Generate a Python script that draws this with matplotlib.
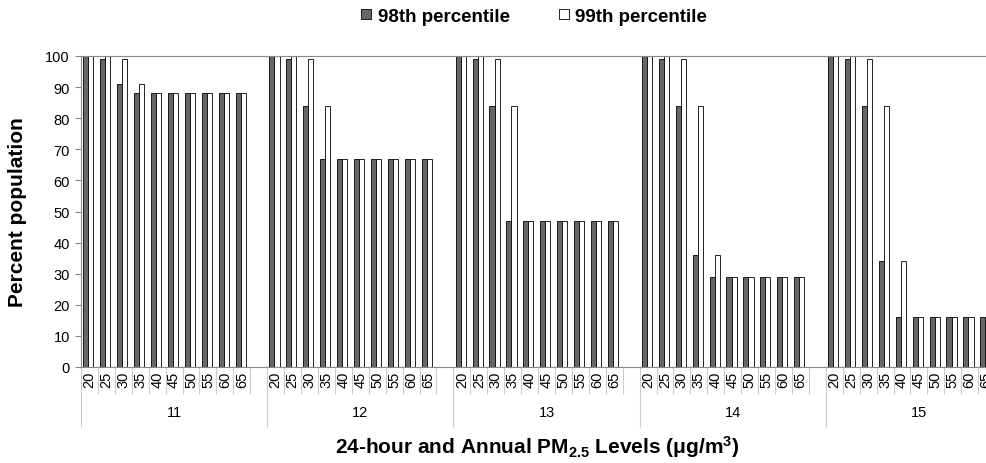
import numpy as np
import matplotlib
matplotlib.use("Agg")
import matplotlib.pyplot as plt
from matplotlib.lines import Line2D
import matplotlib.transforms as mtransforms

plt.rcParams['font.family'] = ['Liberation Sans', 'DejaVu Sans']
plt.rcParams['mathtext.fontset'] = 'custom'
plt.rcParams['mathtext.rm'] = 'Liberation Sans:bold'
plt.rcParams['mathtext.bf'] = 'Liberation Sans:bold'
plt.rcParams['mathtext.default'] = 'bf'

# data
groups = ['11', '12', '13', '14', '15']
levels = ['20', '25', '30', '35', '40', '45', '50', '55', '60', '65']
p98 = [
    [100, 99, 91, 88, 88, 88, 88, 88, 88, 88],
    [100, 99, 84, 67, 67, 67, 67, 67, 67, 67],
    [100, 99, 84, 47, 47, 47, 47, 47, 47, 47],
    [100, 99, 84, 36, 29, 29, 29, 29, 29, 29],
    [100, 99, 84, 34, 16, 16, 16, 16, 16, 16],
]
p99 = [
    [100, 100, 99, 91, 88, 88, 88, 88, 88, 88],
    [100, 100, 99, 84, 67, 67, 67, 67, 67, 67],
    [100, 100, 99, 84, 47, 47, 47, 47, 47, 47],
    [100, 100, 99, 84, 36, 29, 29, 29, 29, 29],
    [100, 100, 99, 84, 34, 16, 16, 16, 16, 16],
]

slots = len(levels) + 1  # one blank slot after each group
W, H = 986, 464
fig = plt.figure(figsize=(W / 100, H / 100), dpi=100)
# plot area runs past the right edge, like the cropped original
ax = fig.add_axes([81 / W, (H - 368) / H, (1012 - 81) / W, (368 - 57) / H])

dark = '#666666'
bw = 0.3
for g in range(len(groups)):
    x0 = g * slots + np.arange(len(levels))
    ax.bar(x0 + 0.28, p98[g], width=bw, color=dark, edgecolor='black', linewidth=0.6)
    ax.bar(x0 + 0.58, p99[g], width=bw, color='white', edgecolor='black', linewidth=0.6)

ax.set_xlim(0, slots * len(groups))
ax.set_ylim(0, 100)
ax.set_yticks(range(0, 101, 10))
ax.tick_params(axis='y', labelsize=10.5, length=4, color='#888888', pad=4)

for s in ['left', 'top', 'bottom']:
    ax.spines[s].set_color('#888888')
    ax.spines[s].set_linewidth(0.8)
ax.spines['right'].set_visible(False)

# separators as tick marks: long ones between groups, short ones between slots
ax.set_xticks([g * slots for g in range(len(groups) + 1)])
ax.set_xticks(np.arange(slots * len(groups) + 1), minor=True)
ax.tick_params(axis='x', which='major', length=60 * 0.72, color='#cccccc', width=0.8, labelbottom=False)
ax.tick_params(axis='x', which='minor', length=27 * 0.72, color='#cccccc', width=0.8)

trans = mtransforms.blended_transform_factory(ax.transData, ax.transAxes)
for g, name in enumerate(groups):
    for i, lv in enumerate(levels):
        ax.text(g * slots + i + 0.5, -4 / 311, lv, transform=trans, rotation=90,
                ha='center', va='top', fontsize=10.5, clip_on=False)
    ax.text(g * slots + slots / 2, -45 / 311, name, transform=trans,
            ha='center', va='center', fontsize=10.5)

fig.text(537 / W, 1 - 447 / H, r'24-hour and Annual PM$_{2.5}$ Levels (μg/m$^{3}$)',
         ha='center', va='center', fontsize=15, fontweight='bold')
fig.text(18 / W, 1 - 212 / H, 'Percent population', rotation=90,
         ha='center', va='center', fontsize=15, fontweight='bold')

handles = [Line2D([], [], linestyle='none', marker='s', markersize=7, markerfacecolor=dark,
                  markeredgecolor='black', markeredgewidth=0.6, label='98th percentile'),
           Line2D([], [], linestyle='none', marker='s', markersize=7, markerfacecolor='white',
                  markeredgecolor='black', markeredgewidth=0.6, label='99th percentile')]
fig.legend(handles=handles, loc='center', bbox_to_anchor=(534 / W, 1 - 17 / H), ncol=2,
           frameon=False, prop={'weight': 'bold', 'size': 13.5}, handlelength=0.6,
           handletextpad=0.3, columnspacing=2.6)

fig.savefig('out.png', dpi=100)
